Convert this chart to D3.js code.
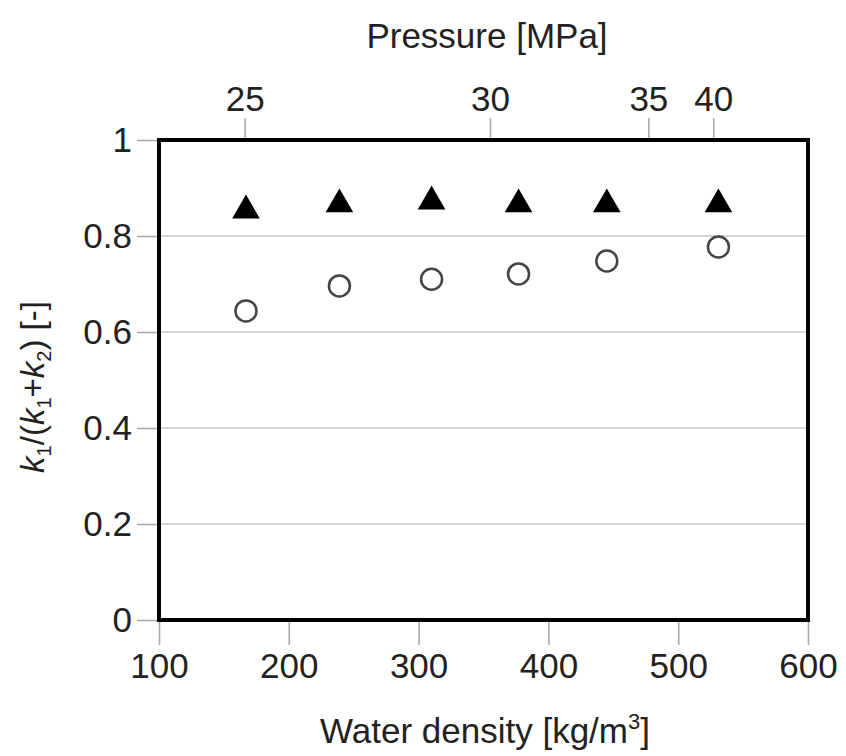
<!DOCTYPE html>
<html><head><meta charset="utf-8">
<script src="https://cdn.jsdelivr.net/npm/d3@7"></script>
<style>body{margin:0;background:#fff}svg{display:block}text{font-family:"Liberation Sans",Arial,sans-serif;fill:#222}</style>
</head><body>
<svg id="c" width="846" height="756"></svg>
<script>
const density = [167, 239, 310, 377, 445, 531];
const ratioTriangle = [0.853, 0.866, 0.872, 0.866, 0.866, 0.866];
const ratioCircle = [0.644, 0.696, 0.710, 0.721, 0.748, 0.777];
const xTicks = [100, 200, 300, 400, 500, 600];
const yTicks = [0, 0.2, 0.4, 0.6, 0.8, 1];
const yTickLabels = ["0", "0.2", "0.4", "0.6", "0.8", "1"];
const pressureTicks = [25, 30, 35, 40];
const pressureDensity = [166, 355, 477, 527];

const svg = d3.select("#c");
const L = 159, R = 808, T = 140, B = 620;
const x = d3.scaleLinear().domain([100, 600]).range([L, R]);
const y = d3.scaleLinear().domain([0, 1]).range([B, T]);
const xTop = d3.scaleLinear().domain(pressureTicks).range(pressureDensity.map(x));
const fs = 35;

// gridlines
svg.append("g").selectAll("line").data(yTicks.filter(d => d > 0 && d < 1)).join("line")
  .attr("x1", L).attr("x2", R).attr("y1", d => y(d)).attr("y2", d => y(d))
  .attr("stroke", "#c8c8c8").attr("stroke-width", 1.6);

// axes
const styleAxis = g => {
  g.select(".domain").remove();
  g.selectAll(".tick line").attr("stroke", "#aaa").attr("stroke-width", 1.6);
  g.selectAll(".tick text").style("font-size", fs + "px").attr("fill", "#222");
};
svg.append("g").attr("transform", `translate(0,${B})`)
  .call(d3.axisBottom(x).tickValues(xTicks).tickSize(25).tickPadding(8).tickFormat(d3.format("d")))
  .call(styleAxis);
svg.append("g").attr("transform", `translate(${L},0)`)
  .call(d3.axisLeft(y).tickValues(yTicks).tickSize(22).tickPadding(5).tickFormat((d, i) => yTickLabels[i]))
  .call(styleAxis);
svg.append("g").attr("transform", `translate(0,${T})`)
  .call(d3.axisTop(xTop).tickValues(pressureTicks).tickSize(22).tickPadding(7).tickFormat(d3.format("d")))
  .call(styleAxis);

// frame
svg.append("rect").attr("x", L).attr("y", T).attr("width", R - L).attr("height", B - T)
  .attr("fill", "none").attr("stroke", "#000").attr("stroke-width", 4);

// circles
svg.append("g").selectAll("circle").data(density).join("circle")
  .attr("cx", d => x(d)).attr("cy", (d, i) => y(ratioCircle[i])).attr("r", 10.5)
  .attr("fill", "#fff").attr("stroke", "#444").attr("stroke-width", 2.5);

// triangles
svg.append("g").selectAll("path").data(density).join("path")
  .attr("d", d3.symbol(d3.symbolTriangle, 330))
  .attr("transform", (d, i) => `translate(${x(d)},${y(ratioTriangle[i])})`)
  .attr("fill", "#000");

// titles
svg.append("text").attr("x", 487).attr("y", 48).attr("text-anchor", "middle")
  .style("font-size", fs + "px").text("Pressure [MPa]");
const xt = svg.append("text").attr("x", 485).attr("y", 743).attr("text-anchor", "middle")
  .style("font-size", fs + "px");
xt.append("tspan").text("Water density [kg/m");
xt.append("tspan").attr("dy", -14).style("font-size", "22px").text("3");
xt.append("tspan").attr("dy", 14).text("]");

const yt = svg.append("text").attr("transform", "translate(44,387) rotate(-90)")
  .attr("text-anchor", "middle").style("font-size", "33px");
yt.append("tspan").style("font-style", "italic").text("k");
yt.append("tspan").attr("dy", 7).style("font-size", "20px").text("1");
yt.append("tspan").attr("dy", -7).text("/(");
yt.append("tspan").style("font-style", "italic").text("k");
yt.append("tspan").attr("dy", 7).style("font-size", "20px").text("1");
yt.append("tspan").attr("dy", -7).text("+");
yt.append("tspan").style("font-style", "italic").text("k");
yt.append("tspan").attr("dy", 7).style("font-size", "20px").text("2");
yt.append("tspan").attr("dy", -7).text(") [-]");
</script>
</body></html>
